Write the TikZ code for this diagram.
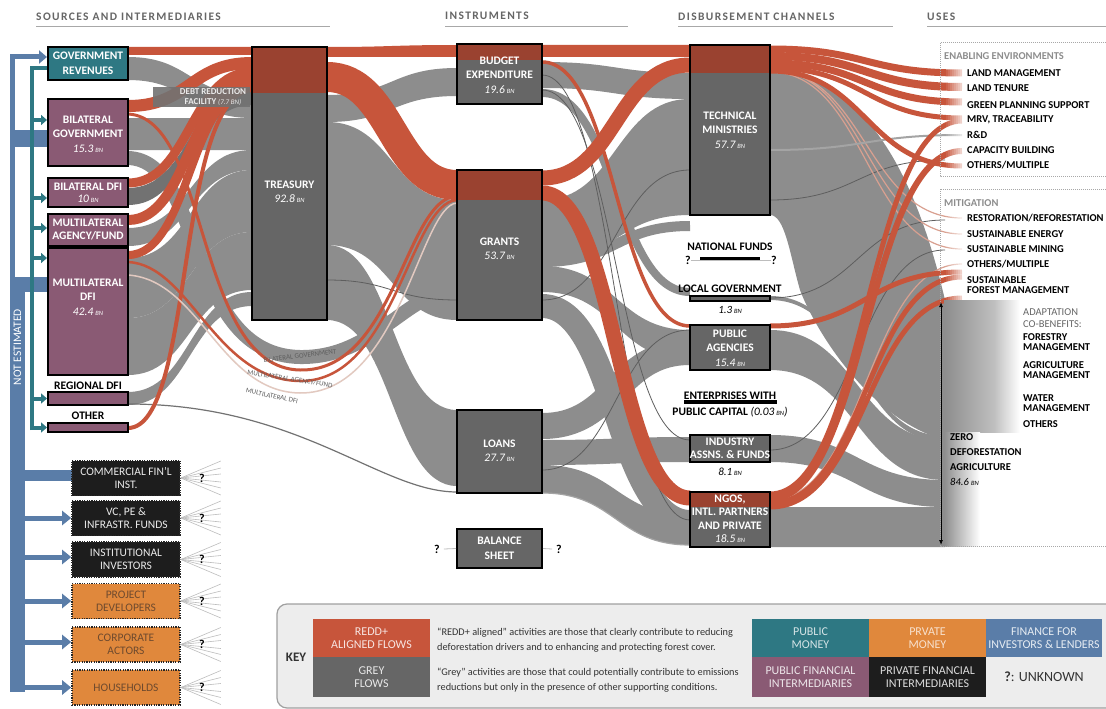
\documentclass[tikz,border=0pt]{standalone}
\usepackage{fontspec}
\setmainfont{Carlito}
\usetikzlibrary{arrows.meta}
\definecolor{cRed}{HTML}{C7553B}
\definecolor{cRedB}{HTML}{9A4230}
\definecolor{cGreyF}{HTML}{8D8D8D}
\definecolor{cGreyB}{HTML}{666666}
\definecolor{cGreyD}{HTML}{727272}
\definecolor{cLine}{HTML}{5E5E5E}
\definecolor{cPale}{HTML}{E2C9C0}
\definecolor{cPink}{HTML}{D9A090}
\definecolor{cPurp}{HTML}{8A5A74}
\definecolor{cTeal}{HTML}{2E7883}
\definecolor{cBlue}{HTML}{5A7DA8}
\definecolor{cOrange}{HTML}{E0883C}
\definecolor{cBlack}{HTML}{1D1D1D}
\definecolor{cHead}{HTML}{666666}
\definecolor{cKey}{HTML}{EDEDED}
\definecolor{cKeyB}{HTML}{A0A0A0}
\definecolor{cKT}{HTML}{333333}
\definecolor{cFan}{HTML}{BDBDBD}
\definecolor{cDot}{HTML}{A8A8A8}
\definecolor{cOrT}{HTML}{6E4A2E}
\newcommand{\flowband}[7]{\pgfmathsetmacro{\fbxm}{(#2+#5)/2}%
 \fill[#1] (#2,#3) .. controls (\fbxm,#3) and (\fbxm,#6) .. (#5,#6) -- (#5,#7) .. controls (\fbxm,#7) and (\fbxm,#4) .. (#2,#4) -- cycle;}
\newcommand{\flowline}[6]{\pgfmathsetmacro{\fbxm}{(#3+#5)/2}%
 \draw[#1, line width=#2pt] (#3,#4) .. controls (\fbxm,#4) and (\fbxm,#6) .. (#5,#6);}
\newcommand{\vbn}[1]{{\mdseries\itshape #1\,{\fontsize{6.5}{7}\selectfont BN}}}
\newcommand{\lf}{\bfseries\fontsize{11.5}{14.5}\selectfont}
\tikzset{
 gf/.style={fill=cGreyF}, rf/.style={fill=cRed}, gd/.style={fill=cGreyD},
 gs/.style={draw=cGreyF}, rs/.style={draw=cRed}, pk/.style={draw=cPink},
 ln/.style={draw=cLine}, gl/.style={draw=cGreyF!80!white},
 box/.style={draw=black, line width=2pt, inner sep=0},
 gbox/.style={box, fill=cGreyB}, pbox/.style={box, fill=cPurp},
 redtop/.style={path picture={\fill[cRedB] (path picture bounding box.north west) rectangle ([yshift=-#1]path picture bounding box.north east);}},
 dbox/.style={draw=black!85, line width=1.6pt, dash pattern=on 1.2pt off 1.2pt, inner sep=0, minimum width=108pt, minimum height=35pt, align=center, font=\fontsize{11.5}{13}\selectfont},
 wl/.style={font=\lf, text=white, align=center, inner sep=0},
 bl/.style={font=\lf, text=black, align=center, inner sep=0},
 ul/.style={font=\bfseries\fontsize{10.5}{12}\selectfont, anchor=west, inner sep=0},
 gh/.style={font=\bfseries\fontsize{10.5}{12}\selectfont, text=cGreyF, anchor=west, inner sep=0},
 ad/.style={font=\fontsize{10.5}{12}\selectfont, text=cGreyB, anchor=west, inner sep=0},
 hdr/.style={anchor=base west, inner sep=0, text=cHead, font=\bfseries\fontsize{11.5}{12}\selectfont\addfontfeature{LetterSpace=12}},
 hline/.style={draw=cDot, line width=1.2pt},
 tarrow/.style={draw=cTeal, line width=4pt, -{Triangle[length=6pt,width=10pt]}},
 barrow/.style={draw=cBlue, line width=5pt, -{Triangle[length=9pt,width=14pt]}},
 qm/.style={font=\bfseries\fontsize{12}{12}\selectfont, inner sep=0},
 kt/.style={font=\fontsize{10.3}{14.5}\selectfont, text=cKT, align=left, anchor=west, inner sep=0},
 kb/.style={inner sep=0, minimum width=117pt, align=center, font=\fontsize{12}{13.5}\selectfont},
 flab/.style={font=\fontsize{7}{8}\selectfont, text=cLine, inner sep=0},
}
\begin{document}
\begin{tikzpicture}[x=1pt,y=-1pt]
\useasboundingbox (0,0) rectangle (1106,709);
\fill[white] (0,0) rectangle (1106,709);
% headers
\node[hdr] (h1) at (36,21) {SOURCES AND INTERMEDIARIES};
\node[hdr] (h2) at (445,20) {INSTRUMENTS};
\node[hdr] (h3) at (678,21) {DISBURSEMENT CHANNELS};
\node[hdr] (h4) at (927,21) {USES};
\draw[hline] (36,26.5) -- (330,26.5);
\draw[hline] (445,26.5) -- (628,26.5);
\draw[hline] (678,26.5) -- (893,26.5);
\draw[hline] (927,26.5) -- (1106,26.5);
% ================= GREY FLOWS =================
\flowband{gf}{128}{57}{80}{252}{95}{118}
\flowband{gf}{128}{118}{150}{252}{118}{150}
\flowband{gf}{128}{228}{246}{252}{150}{170}
\flowband{gf}{128}{258}{318}{252}{170}{232}
\flowband{gf}{128}{318}{375}{252}{232}{290}
\flowband{gf}{128}{392}{405}{252}{292}{306}
\draw[gs, line width=14pt] (128,158) .. controls (205,160) and (185,355) .. (300,357) .. controls (375,358) and (405,292) .. (457,290);
\flowband{gf}{327}{95}{122}{457}{68}{96}
\flowband{gf}{327}{122}{245}{457}{200}{320}
\flowband{gf}{327}{245}{320}{457}{410}{486}
\flowband{gf}{542}{62}{88}{690}{73}{99}
\flowline{gs}{8}{542}{93}{690}{292}
\flowband{gf}{542}{200}{262}{690}{99}{215}
\flowline{gs}{10}{542}{262}{690}{226}
\flowband{gf}{542}{266}{292}{690}{330}{360}
\flowline{gs}{24}{542}{306}{690}{522}
\flowline{gs}{26}{542}{426}{690}{352}
\flowband{gf}{542}{440}{465}{690}{437}{462}
\flowband{gf}{542}{465}{493}{690}{515}{545}
\fill[gf] (770,73) .. controls (880,73) and (925,215) .. (945,300) -- (945,440) .. controls (870,420) and (815,330) .. (800,290) .. controls (790,255) and (785,215) .. (770,215) -- cycle;
\flowband{gf}{770}{296}{300}{945}{436}{442}
\flowband{gf}{770}{330}{370}{945}{440}{480}
\flowband{gf}{770}{435}{462}{945}{480}{507}
\flowband{gf}{770}{507}{547}{945}{507}{547}
% debt reduction facility band
\flowband{gd}{128}{188}{205}{252}{88}{105}
% thin lines
\flowline{ln}{0.8}{542}{75}{690}{520}
\flowline{ln}{0.8}{542}{90}{690}{440}
\flowline{ln}{0.8}{542}{300}{690}{170}
\flowline{ln}{0.8}{542}{470}{690}{330}
\flowline{gl}{1.2}{542}{493}{690}{545}
\flowline{ln}{0.8}{327}{280}{457}{300}
\flowline{ln}{0.8}{770}{200}{945}{160}
\flowline{ln}{0.8}{770}{298}{945}{220}
\flowline{ln}{0.8}{770}{450}{945}{250}
\draw[cGreyD, line width=1.2pt] (128,404) .. controls (300,404) and (380,492) .. (457,492);
% ================= RED FLOWS =================
\flowband{rf}{128}{47}{55}{252}{47}{55}
\flowline{rs}{12}{128}{106}{252}{63}
\flowline{rs}{9}{128}{183}{252}{72}
\flowline{rs}{10}{128}{220}{252}{80}
\flowline{rs}{8}{128}{255}{252}{88}
\draw[rs, line width=4pt] (128,428) .. controls (195,428) and (175,95) .. (252,90);
\draw[rs, line width=3pt] (128,114) .. controls (210,118) and (195,368) .. (300,370) .. controls (395,372) and (405,198) .. (457,196);
\draw[rs, line width=2.5pt] (128,262) .. controls (190,265) and (215,380) .. (300,381) .. controls (395,382) and (410,202) .. (457,200);
\draw[cPale, line width=1.5pt] (128,275) .. controls (200,280) and (220,392) .. (300,393) .. controls (400,394) and (420,205) .. (457,203);
\flowband{rf}{327}{47}{57}{457}{45}{57}
\flowline{rs}{30}{327}{77}{457}{185}
\flowband{rf}{542}{45}{57}{690}{45}{57}
\flowline{rs}{15}{542}{178}{690}{65}
\flowline{rs}{15}{542}{193}{690}{498}
\flowline{rs}{3.5}{542}{62}{690}{326}
\flowline{pk}{1.2}{770}{70}{962}{218}
\flowline{pk}{1.2}{770}{70}{962}{234}
\flowline{pk}{1.2}{770}{72}{962}{249}
\flowline{pk}{1.2}{770}{500}{962}{264}
\flowline{gl}{2}{770}{150}{962}{135}
\flowline{rs}{7}{770}{49}{962}{73}
\flowline{rs}{8}{770}{56}{962}{87}
\flowline{rs}{7}{770}{63}{962}{102}
\flowline{rs}{5}{770}{68}{962}{118}
\flowline{rs}{5}{770}{71}{962}{166}
\flowline{rs}{5}{770}{494}{962}{121}
\flowline{rs}{6}{770}{499}{962}{151}
\flowline{rs}{5}{770}{503}{962}{277}
\flowline{rs}{5}{770}{507}{962}{298}
\flowline{rs}{5}{770}{326}{962}{272}
% fade of the flows into the uses column
\foreach \i in {0,...,11} {\fill[white, opacity=\i/11] ({944+2*\i},40) rectangle ({946.1+2*\i},302);}
\fill[white] (967,40) rectangle (1106,302);
\shade[left color=cGreyF, right color=cGreyF!55!white] (944,300) rectangle (995,432);
\shade[left color=cGreyF!55!white, right color=white] (994.5,300) rectangle (1020,432);
\shade[left color=cGreyF, right color=white] (944,432) rectangle (980,546);
% flow labels
\node[flab, rotate=7] (lbg) at (300,356) {BILATERAL GOVERNMENT};
\node[flab, rotate=-9] (lmaf) at (290,379) {MULTILATERAL AGENCY/FUND};
\node[flab, rotate=-12] (lmdfi) at (272,396) {MULTILATERAL DFI};
% debt reduction label
\fill[cGreyD, opacity=0.9] (153,87) rectangle (250,107);
\node[font=\bfseries\fontsize{9}{9.5}\selectfont, text=white!92!black, align=center, inner sep=0] (debt) at (213,97) {DEBT REDUCTION\\FACILITY {\mdseries\itshape\fontsize{7}{8}\selectfont (7.7 BN)}};
% ================= BLUE / TEAL ARROWS =================
\fill[cBlue] (10,130) rectangle (48,147);
\fill[cBlue] (10,277) rectangle (48,292);
\fill[cBlue] (10,277) rectangle (25,692);
\fill[cBlue] (25,470) rectangle (74,481);
\draw[cTeal, line width=4pt] (32,430) -- (32,68) -- (48,68);
% ================= SOURCE BOXES =================
\node[box, fill=cTeal, minimum width=80pt, minimum height=33pt] (gr) at (88,63.5) {};
\node[pbox, minimum width=80pt, minimum height=67pt] (bg) at (88,132.5) {};
\node[pbox, minimum width=80pt, minimum height=29pt] (bdfi) at (88,192.5) {};
\node[pbox, minimum width=80pt, minimum height=32pt] (maf) at (88,230) {};
\node[pbox, minimum width=80pt, minimum height=127pt] (mdfi) at (88,311.5) {};
\node[pbox, minimum width=80pt, minimum height=13pt] (rdfi) at (88,398.5) {};
\node[pbox, minimum width=80pt, minimum height=9pt] (oth) at (88,427.5) {};
\draw[cBlue, line width=5pt, -{Triangle[length=8pt,width=13pt]}] (12.5,290) -- (12.5,57) -- ([yshift=6.5pt]gr.west);
\draw[tarrow] (32,120) -- ([yshift=12.5pt]bg.west);
\draw[tarrow] (32,198) -- ([yshift=-5.5pt]bdfi.west);
\draw[tarrow] (32,228) -- ([yshift=2pt]maf.west);
\draw[tarrow] (32,258) -- ([yshift=53.5pt]mdfi.west);
\draw[tarrow] (32,398.5) -- (rdfi.west);
\draw[tarrow] (32,427.5) -- (oth.west);
\node[wl] (tgr) at (88,63.5) {GOVERNMENT\\REVENUES};
\node[wl] (tbg) at (88,134) {BILATERAL\\GOVERNMENT\\\vbn{15.3}};
\node[wl, font=\bfseries\fontsize{11.5}{12.5}\selectfont] (tbdfi) at (88,193) {BILATERAL DFI\\\vbn{10}};
\node[wl, font=\bfseries\fontsize{11.5}{13}\selectfont] (tmaf) at (88,230) {MULTILATERAL\\AGENCY/FUND};
\node[wl] (tmdfi) at (88,297) {MULTILATERAL\\DFI\\\vbn{42.4}};
\node[bl] (trdfi) at (88,386) {REGIONAL DFI};
\node[bl] (toth) at (88,416) {OTHER};
\node[rotate=90, text=white, font=\fontsize{11.5}{12}\selectfont, inner sep=0] (ne) at (17.5,347) {NOT ESTIMATED};
% private boxes
\node[dbox, fill=cBlack, text=white!92!black] (cfi) at (126,478) {COMMERCIAL FIN'L\\INST.};
\node[dbox, fill=cBlack, text=white!92!black] (vc) at (126,518) {VC, PE \&\\INFRASTR. FUNDS};
\node[dbox, fill=cBlack, text=white!92!black] (ii) at (126,559.5) {INSTITUTIONAL\\INVESTORS};
\node[dbox, fill=cOrange, text=cOrT] (pd) at (126,601) {PROJECT\\DEVELOPERS};
\node[dbox, fill=cOrange, text=cOrT] (ca) at (126,644.5) {CORPORATE\\ACTORS};
\node[dbox, fill=cOrange, text=cOrT] (hh) at (126,687.5) {HOUSEHOLDS};
\draw[barrow] (25,518) -- (vc.west);
\draw[barrow] (25,557) -- ([yshift=2.5pt]ii.west);
\draw[barrow] (25,601) -- (pd.west);
\draw[barrow] (25,642) -- ([yshift=2.5pt]ca.west);
\draw[barrow] (10,687.5) -- (hh.west);
\foreach \b/\yy in {cfi/478, vc/518, ii/559.5, pd/601, ca/644.5, hh/687.5} {
  \foreach \d in {-17,-10,-4,4,10,17} {\draw[cFan, line width=0.6pt] (\b.east) -- ++(40,\d);}
  \node[qm] at (202,\yy) {?};
}
% ================= INSTRUMENT BOXES =================
\node[gbox, redtop=46pt, minimum width=75pt, minimum height=273pt] (treas) at (289.5,183.5) {};
\node[wl] (ttreas) at (289.5,192) {TREASURY\\\vbn{92.8}};
\node[gbox, redtop=16pt, minimum width=85pt, minimum height=60pt] (budget) at (499.5,74) {};
\node[wl] (tbudget) at (499.5,75) {BUDGET\\EXPENDITURE\\\vbn{19.6}};
\node[gbox, redtop=30pt, minimum width=85pt, minimum height=150pt] (grants) at (499.5,245) {};
\node[wl] (tgrants) at (499.5,249) {GRANTS\\\vbn{53.7}};
\node[gbox, minimum width=85pt, minimum height=83pt] (loans) at (499.5,451.5) {};
\node[wl] (tloans) at (499.5,451) {LOANS\\\vbn{27.7}};
\node[gbox, minimum width=85pt, minimum height=39pt] (bal) at (499.5,548.5) {};
\node[wl] (tbal) at (499.5,548.5) {BALANCE\\SHEET};
\node[qm] (qb1) at (437,549) {?};
\node[qm] (qb2) at (559,549) {?};
\draw[cFan, line width=0.8pt] (qb1.east) ++(4,0) -- (bal.west);
\draw[cFan, line width=0.8pt] (bal.east) -- ([xshift=-4pt]qb2.west);
% ================= CHANNEL BOXES =================
\node[gbox, redtop=28pt, minimum width=80pt, minimum height=170pt] (tm) at (730,130) {};
\node[wl] (ttm) at (730,130) {TECHNICAL\\MINISTRIES\\\vbn{57.7}};
\node[bl] (tnf) at (730,247) {NATIONAL FUNDS};
\node[qm] (qn1) at (688,260) {?};
\node[qm] (qn2) at (774,260) {?};
\draw[cFan, line width=0.8pt] (qn1.east) -- (qn2.west);
\draw[black, line width=3pt] (700,258.5) -- (760,258.5);
\node[gbox, line width=1.6pt, minimum width=80pt, minimum height=5pt] (lg) at (730,298.5) {};
\node[bl] (tlg) at (730,289) {LOCAL GOVERNMENT};
\node[font=\fontsize{11}{12}\selectfont, inner sep=0] (vlg) at (730,310) {\vbn{1.3}};
\node[gbox, minimum width=80pt, minimum height=45pt] (pa) at (730,347.5) {};
\node[wl] (tpa) at (730,348) {PUBLIC\\AGENCIES\\\vbn{15.4}};
\draw[black, line width=3.5pt] (684,402) -- (777,402);
\node[bl] (tepc) at (730,396) {ENTERPRISES WITH};
\node[bl] (tepc2) at (730,412) {PUBLIC CAPITAL \vbn{(0.03}{\mdseries\itshape)}};
\node[gbox, minimum width=80pt, minimum height=27pt] (iaf) at (730,448.5) {};
\node[wl, font=\bfseries\fontsize{11.5}{12.5}\selectfont] (tiaf) at (730,448.5) {INDUSTRY\\ASSNS. \& FUNDS};
\node[font=\fontsize{11}{12}\selectfont, inner sep=0] (viaf) at (730,472) {\vbn{8.1}};
\node[gbox, redtop=15pt, minimum width=80pt, minimum height=55pt] (ngo) at (730,519.5) {};
\node[wl, font=\bfseries\fontsize{11.5}{13.5}\selectfont] (tngo) at (730,519) {NGOS,\\INTL. PARTNERS\\AND PRIVATE\\\vbn{18.5}};
% ================= USES =================
\draw[cDot, densely dotted, line width=1pt] (1106,43) -- (940,43) -- (940,176) -- (1106,176);
\draw[cDot, densely dotted, line width=1pt] (1106,189) -- (940,189) -- (940,546) -- (1106,546);
\node[gh] (ee) at (944,56) {ENABLING ENVIRONMENTS};
\node[ul] (u1) at (967,73.5) {LAND MANAGEMENT};
\node[ul] (u2) at (967,88) {LAND TENURE};
\node[ul] (u3) at (967,105) {GREEN PLANNING SUPPORT};
\node[ul] (u4) at (967,120) {MRV, TRACEABILITY};
\node[ul] (u5) at (967,135) {R\&D};
\node[ul] (u6) at (967,150) {CAPACITY BUILDING};
\node[ul] (u7) at (967,165) {OTHERS/MULTIPLE};
\node[gh] (mi) at (944,203) {MITIGATION};
\node[ul] (m1) at (967,218) {RESTORATION/REFORESTATION};
\node[ul] (m2) at (967,234) {SUSTAINABLE ENERGY};
\node[ul] (m3) at (967,249) {SUSTAINABLE MINING};
\node[ul] (m4) at (967,264) {OTHERS/MULTIPLE};
\node[ul, align=left] (m5) at (967,285.5) {SUSTAINABLE\\[-2pt]FOREST MANAGEMENT};
\node[ad] (a0) at (1023,312) {ADAPTATION};
\node[ad] (a1) at (1023,324) {CO-BENEFITS:};
\node[ul, align=left] (a2) at (1023,342.5) {FORESTRY\\[-2pt]MANAGEMENT};
\node[ul, align=left] (a3) at (1023,370) {AGRICULTURE\\[-2pt]MANAGEMENT};
\node[ul, align=left] (a4) at (1023,403) {WATER\\[-2pt]MANAGEMENT};
\node[ul] (a5) at (1023,424) {OTHERS};
\node[ul, align=left, font=\bfseries\fontsize{10.5}{15}\selectfont] (zda) at (950,460) {ZERO\\DEFORESTATION\\AGRICULTURE\\{\mdseries\itshape 84.6 {\fontsize{6.5}{7}\selectfont BN}}};
\coordinate (zdaT) at (941,302);
\coordinate (zdaB) at (941,545);
\draw[{Latex[length=5pt,width=4pt]}-{Latex[length=5pt,width=4pt]}, line width=0.8pt] (zdaT) -- (zdaB);
% ================= KEY =================
\draw[draw=cKeyB, fill=cKey, rounded corners=10pt, line width=1.2pt] (277,604) rectangle (1125,708);
\node[font=\bfseries\fontsize{13}{13}\selectfont, text=cKT, inner sep=0] (key) at (296,657) {KEY};
\node[kb, fill=cRed, text=white!85!cRed, minimum height=38pt] (kred) at (371.5,638) {REDD+\\ALIGNED FLOWS};
\node[kb, fill=cGreyB, text=white!85!cGreyB, minimum height=40pt] (kgrey) at (371.5,677) {GREY\\FLOWS};
\node[kt] (kt1) at (437,640) {``REDD+ aligned'' activities are those that clearly contribute to reducing\\deforestation drivers and to enhancing and protecting forest cover.};
\node[kt] (kt2) at (437,680) {``Grey'' activities are those that could potentially contribute to emissions\\reductions but only in the presence of other supporting conditions.};
\node[kb, fill=cTeal, text=white!80!cTeal, minimum height=38pt] (kpub) at (810.5,638) {PUBLIC\\MONEY};
\node[kb, fill=cOrange, text=white!75!cOrange, minimum height=38pt] (kpriv) at (927.5,638) {PRVATE\\MONEY};
\node[kb, fill=cBlue, text=white!85!cBlue, minimum width=116pt, minimum height=38pt] (kfin) at (1044,638) {FINANCE FOR\\INVESTORS \& LENDERS};
\node[kb, fill=cPurp, text=white!85!cPurp, minimum height=40pt] (kpfi) at (810.5,677) {PUBLIC FINANCIAL\\INTERMEDIARIES};
\node[kb, fill=cBlack, text=white!85!cBlack, minimum height=40pt] (kprfi) at (927.5,677) {PRIVATE FINANCIAL\\INTERMEDIARIES};
\node[font=\fontsize{14}{14}\selectfont, text=cKT, inner sep=0] (kunk) at (1044,677) {\textbf{?}: UNKNOWN};
\end{tikzpicture}
\end{document}
